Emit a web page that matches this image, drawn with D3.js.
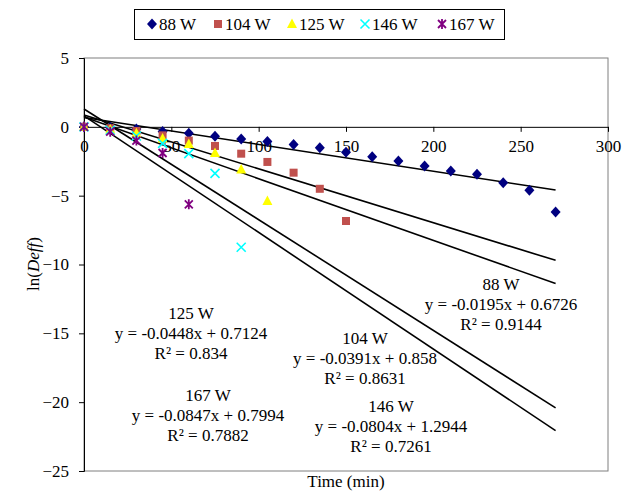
<!DOCTYPE html>
<html><head><meta charset="utf-8">
<script src="https://cdn.jsdelivr.net/npm/d3@7/dist/d3.min.js"></script>
<style>body{margin:0;background:#fff}svg text{font-family:"Liberation Serif","Times New Roman",Times,"DejaVu Serif",serif !important}</style>
</head><body><svg id="c" width="640" height="496"></svg>
<script>
const seriesNames = ["88 W","104 W","125 W","146 W","167 W"];
const seriesColors = ["#000080","#C0504D","#FFFF00","#00FFFF","#800080"];
const seriesShapes = ["diamond","square","triangle","x","star"];
const times88  = [0,15,30,45,60,75,90,105,120,135,150,165,180,195,210,225,240,255,270];
const vals88   = [0,-0.05,-0.15,-0.33,-0.47,-0.68,-0.89,-1.06,-1.29,-1.52,-1.85,-2.17,-2.48,-2.85,-3.21,-3.45,-4.06,-4.61,-6.19];
const times104 = [0,15,30,45,60,75,90,105,120,135,150];
const vals104  = [0,-0.1,-0.3,-0.62,-1.0,-1.39,-1.95,-2.55,-3.33,-4.5,-6.84];
const times125 = [0,15,30,45,60,75,90,105];
const vals125  = [0,-0.2,-0.47,-0.84,-1.25,-1.9,-3.1,-5.39];
const times146 = [0,15,30,45,60,75,90];
const vals146  = [0,-0.25,-0.67,-1.2,-1.95,-3.38,-8.75];
const times167 = [0,15,30,45,60];
const vals167  = [0,-0.35,-1.0,-1.9,-5.63];
const slopes = [-0.0195,-0.0391,-0.0448,-0.0804,-0.0847];
const intercepts = [0.6726,0.858,0.7124,1.2944,0.7994];
const r2 = ["0.9144","0.8631","0.834","0.7261","0.7882"];
const eqText = ["y = -0.0195x + 0.6726","y = -0.0391x + 0.858","y = -0.0448x + 0.7124","y = -0.0804x + 1.2944","y = -0.0847x + 0.7994"];
const labelAt = [[501,290],[365,344],[191,319],[391,412],[208,401]];
const xTicks = [0,50,100,150,200,250,300];
const yTicks = [5,0,-5,-10,-15,-20,-25];
const trendEnd = 270;

const svg = d3.select("#c");
const x = d3.scaleLinear().domain([0,300]).range([84,608]);
const y = d3.scaleLinear().domain([-25,5]).range([471,58]);
const FS = 17;

svg.append("rect").attr("x",x(0)).attr("y",y(5)).attr("width",x(300)-x(0)).attr("height",y(-25)-y(5))
  .attr("fill","none").attr("stroke","#7f7f7f").attr("stroke-width",1);

const yAxis = svg.append("g").attr("transform",`translate(${x(0)},0)`)
  .call(d3.axisLeft(y).tickValues(yTicks).tickSize(5).tickPadding(10).tickFormat(d3.format("d")));
yAxis.select(".domain").attr("stroke","#000");
yAxis.selectAll("text").attr("font-size",FS).attr("fill","#000");

const xAxis = svg.append("g").attr("transform",`translate(0,${y(0)})`)
  .call(d3.axisBottom(x).tickValues(xTicks).tickSize(5).tickPadding(8).tickSizeOuter(0).tickFormat(d3.format("d")));
xAxis.select(".domain").attr("stroke","#000");
xAxis.selectAll("text").attr("font-size",FS).attr("fill","#000");

slopes.forEach((m,i)=>{
  svg.append("line").attr("x1",x(0)).attr("y1",y(intercepts[i])).attr("x2",x(trendEnd)).attr("y2",y(m*trendEnd+intercepts[i]))
    .attr("stroke","#000").attr("stroke-width",1.6);
});

function marker(g, shape, color, cx, cy){
  if(shape==="diamond"){
    g.append("path").attr("d",`M${cx},${cy-5.5}L${cx+5},${cy}L${cx},${cy+5.5}L${cx-5},${cy}Z`).attr("fill",color);
  } else if(shape==="square"){
    g.append("rect").attr("x",cx-4).attr("y",cy-4).attr("width",8).attr("height",8).attr("fill",color);
  } else if(shape==="triangle"){
    g.append("path").attr("d",`M${cx},${cy-5.5}L${cx+5},${cy+4}L${cx-5},${cy+4}Z`).attr("fill",color);
  } else if(shape==="x"){
    g.append("path").attr("d",`M${cx-4.5},${cy-4.5}L${cx+4.5},${cy+4.5}M${cx+4.5},${cy-4.5}L${cx-4.5},${cy+4.5}`).attr("stroke",color).attr("stroke-width",1.6);
  } else {
    g.append("path").attr("d",`M${cx-4},${cy-4}L${cx+4},${cy+4}M${cx+4},${cy-4}L${cx-4},${cy+4}M${cx},${cy-5}L${cx},${cy+5}`).attr("stroke",color).attr("stroke-width",1.8);
  }
}

const allTimes = [times88,times104,times125,times146,times167];
const allVals = [vals88,vals104,vals125,vals146,vals167];
allTimes.forEach((ts,i)=>{
  const g = svg.append("g");
  ts.forEach((t,j)=>marker(g, seriesShapes[i], seriesColors[i], x(t), y(allVals[i][j])));
});

slopes.forEach((m,i)=>{
  const [lx,ly] = labelAt[i];
  const t = svg.append("text").attr("text-anchor","middle").attr("font-size",FS).attr("fill","#000");
  t.append("tspan").attr("x",lx).attr("y",ly).text(seriesNames[i]);
  t.append("tspan").attr("x",lx).attr("y",ly+20).text(eqText[i]);
  t.append("tspan").attr("x",lx).attr("y",ly+40).text("R² = "+r2[i]);
});

svg.append("text").attr("x",346).attr("y",487).attr("text-anchor","middle").attr("font-size",FS).text("Time (min)");
const yt = svg.append("text").attr("transform","translate(39,264) rotate(-90)").attr("text-anchor","middle").attr("font-size",FS);
yt.append("tspan").text("ln(");
yt.append("tspan").attr("font-style","italic").text("Deff");
yt.append("tspan").text(")");

svg.append("rect").attr("x",134.5).attr("y",9.5).attr("width",370).attr("height",30).attr("fill","#fff").attr("stroke","#000");
const legX = [152,218,292,365,442];
const lg = svg.append("g");
seriesNames.forEach((n,i)=>{
  marker(lg, seriesShapes[i], seriesColors[i], legX[i], 24);
  lg.append("text").attr("x",legX[i]+7).attr("y",30).attr("font-size",FS).text(n);
});
</script></body></html>
